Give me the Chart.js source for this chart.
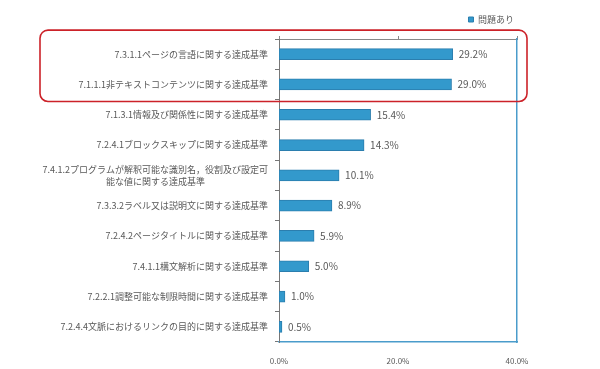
<!DOCTYPE html>
<html>
<head>
<meta charset="utf-8">
<script src="https://cdn.jsdelivr.net/npm/chart.js@4"></script>
<style>
  html, body { margin: 0; padding: 0; background: #fff; }
  #wrap { width: 600px; height: 369px; }
</style>
</head>
<body>
<div id="wrap"><canvas id="issueChart"></canvas></div>
<script>
const categories = [
  "7.3.1.1ページの言語に関する達成基準",
  "7.1.1.1非テキストコンテンツに関する達成基準",
  "7.1.3.1情報及び関係性に関する達成基準",
  "7.2.4.1ブロックスキップに関する達成基準",
  ["7.4.1.2プログラムが解釈可能な識別名，役割及び設定可", "能な値に関する達成基準\u3000\u3000\u3000\u3000\u3000\u3000\u3000"],
  "7.3.3.2ラベル又は説明文に関する達成基準",
  "7.2.4.2ページタイトルに関する達成基準",
  "7.4.1.1構文解析に関する達成基準",
  "7.2.2.1調整可能な制限時間に関する達成基準",
  "7.2.4.4文脈におけるリンクの目的に関する達成基準"
];
const problemValues = [29.2, 29.0, 15.4, 14.3, 10.1, 8.9, 5.9, 5.0, 1.0, 0.5];
const seriesName = "問題あり";
const axisMin = 0, axisMax = 40, axisStep = 20;

const FONT = '"Noto Sans CJK JP", "Noto Sans", sans-serif';
const TEXT = "#595959";

/* value labels + red highlight box */
const extras = {
  id: "extras",
  afterDatasetsDraw(chart) {
    const ctx = chart.ctx;
    const meta = chart.getDatasetMeta(0);
    ctx.save();
    ctx.font = "10px " + FONT;
    ctx.fillStyle = TEXT;
    ctx.textBaseline = "middle";
    ctx.textAlign = "left";
    meta.data.forEach((bar, i) => {
      ctx.fillText(problemValues[i].toFixed(1) + "%", bar.x + 6, bar.y);
    });
    ctx.restore();
  },
  afterDraw(chart) {
    const ctx = chart.ctx;
    const y = chart.scales.y;
    const area = chart.chartArea;
    const top = y.getPixelForValue(0) - 24;
    const bottom = y.getPixelForValue(1) + 17;
    ctx.save();
    ctx.strokeStyle = "#cc2229";
    ctx.lineWidth = 1.6;
    ctx.beginPath();
    ctx.roundRect(40, top, area.right + 10 - 40, bottom - top, 8);
    ctx.stroke();
    ctx.restore();
  }
};

new Chart(document.getElementById("issueChart"), {
  type: "bar",
  data: {
    labels: categories,
    datasets: [{
      label: seriesName,
      data: problemValues,
      backgroundColor: "#3399cc",
      borderColor: "#2b7eae",
      borderWidth: 1,
      borderSkipped: false,
      barThickness: 11
    }]
  },
  options: {
    indexAxis: "y",
    responsive: true,
    maintainAspectRatio: false,
    animation: false,
    layout: { padding: { top: 12, right: 83, bottom: 0, left: 0 } },
    plugins: {
      tooltip: { enabled: false },
      legend: {
        position: "top",
        align: "end",
        labels: {
          boxWidth: 5,
          boxHeight: 5,
          padding: 3,
          color: TEXT,
          font: { family: FONT, size: 9 }
        }
      }
    },
    scales: {
      x: {
        position: "bottom",
        min: axisMin, max: axisMax,
        ticks: {
          stepSize: axisStep,
          padding: 6,
          color: TEXT,
          font: { family: FONT, size: 8 },
          callback: v => v.toFixed(1) + "%"
        },
        grid: { display: false },
        border: { color: "#4a9ccb", width: 1.5 },
        afterFit: s => { s.height = 27; }
      },
      x2: {
        type: "linear",
        position: "top",
        min: axisMin, max: axisMax,
        ticks: { display: false, stepSize: axisStep },
        grid: { drawOnChartArea: false, tickLength: 3, color: "#888" },
        border: { color: "#888" },
        afterFit: s => { s.height = 5; }
      },
      y: {
        position: "left",
        ticks: {
          padding: 7,
          color: TEXT,
          font: { family: FONT, size: 9, lineHeight: 1.3 }
        },
        grid: { drawOnChartArea: false, tickLength: 4, color: "#777", offset: true },
        border: { color: "#777" },
        afterFit: s => { s.width = 279; }
      },
      y2: {
        type: "linear",
        position: "right",
        ticks: { display: false },
        grid: { display: false },
        border: { color: "#4a9ccb", width: 1.5 },
        afterFit: s => { s.width = 0; }
      }
    }
  },
  plugins: [extras]
});
</script>
</body>
</html>
